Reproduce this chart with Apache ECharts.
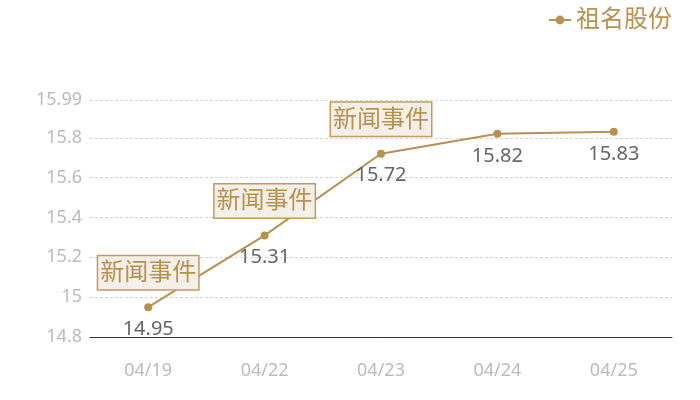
<!DOCTYPE html>
<html>
<head>
<meta charset="utf-8">
<script src="https://cdn.jsdelivr.net/npm/echarts@6/dist/echarts.min.js"></script>
<style>
  html, body { margin: 0; padding: 0; background: #fff; }
  #chart { width: 700px; height: 400px; }
</style>
</head>
<body>
<div id="chart"></div>
<script>
// 데이터
const dates = ['04/19', '04/22', '04/23', '04/24', '04/25'];
const prices = [14.95, 15.31, 15.72, 15.82, 15.83];
const eventIdx = [0, 1, 2];
const eventText = '新闻事件';
const seriesName = '祖名股份';

const gold = '#b8914f';
const font = '"Noto Sans", "Noto Sans CJK SC", sans-serif';

const chart = echarts.init(document.getElementById('chart'));

const option = {
  animation: false,
  textStyle: { fontFamily: font },
  legend: {
    top: 3,
    right: 23,
    itemWidth: 22,
    itemHeight: 11,
    itemGap: 6,
    textStyle: { color: gold, fontSize: 24 },
    data: [seriesName]
  },
  grid: { left: 90, right: 28, top: 100, bottom: 63 },
  xAxis: {
    type: 'category',
    data: dates,
    boundaryGap: true,
    axisLine: { lineStyle: { color: '#333' } },
    axisTick: { show: false },
    axisLabel: { color: '#bbb', fontSize: 18, margin: 25 }
  },
  yAxis: {
    type: 'value',
    min: 14.8,
    max: 15.99,
    interval: 0.2,
    axisLine: { show: false },
    axisTick: { show: false },
    axisLabel: { color: '#bbb', fontSize: 18, margin: 8 },
    splitLine: { lineStyle: { color: '#d6d6d6', type: [3, 2] } }
  },
  series: [{
    name: seriesName,
    type: 'line',
    data: prices,
    symbol: 'circle',
    symbolSize: 8,
    itemStyle: { color: gold },
    lineStyle: { color: gold, width: 2 },
    label: {
      show: true,
      position: 'bottom',
      distance: 8,
      color: '#666',
      fontSize: 20
    },
    markPoint: {
      symbol: 'circle',
      symbolSize: 0,
      label: {
        show: true,
        formatter: eventText,
        position: 'top',
        distance: 18,
        color: gold,
        fontSize: 24,
        backgroundColor: '#f4efe9',
        borderColor: '#c49a5c',
        borderWidth: 1.5,
        padding: [5, 2, 4, 2]
      },
      data: eventIdx.map(i => ({ coord: [dates[i], prices[i]], value: prices[i] }))
    }
  }]
};

chart.setOption(option);
</script>
</body>
</html>
